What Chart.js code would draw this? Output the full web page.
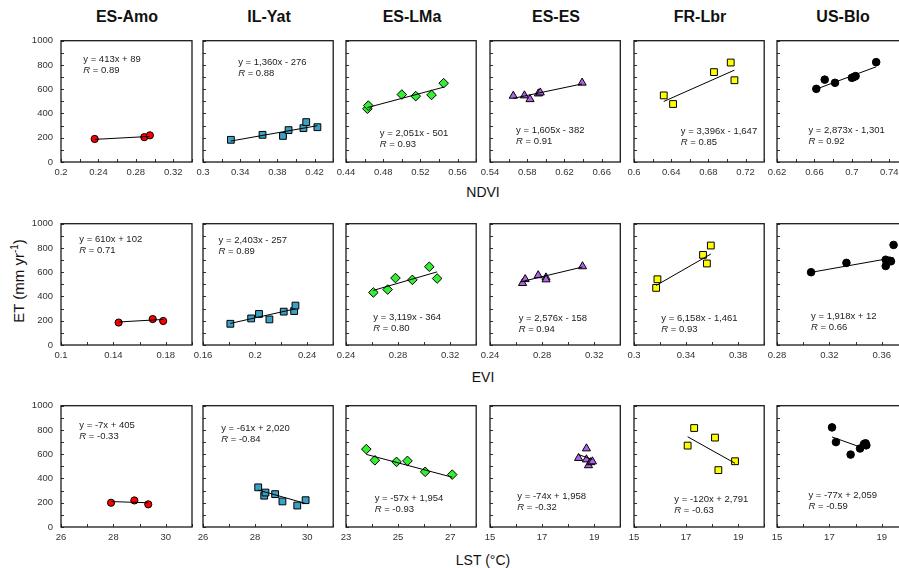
<!DOCTYPE html>
<html>
<head>
<meta charset="utf-8">
<script src="https://cdn.jsdelivr.net/npm/chart.js@4.4.1/dist/chart.umd.min.js"></script>
<style>
body{margin:0;width:899px;height:568px;overflow:hidden;background:#fff;position:relative;font-family:"Liberation Sans",Arial,sans-serif;color:#111}
canvas{position:absolute}
.t{position:absolute;transform:translate(-50%,-50%);white-space:nowrap}
.site{font-weight:bold;font-size:16px}
.ax{font-size:14px}
</style>
</head>
<body>
<script>
// sites (columns) and predictor rows
const sites = ['ES-Amo', 'IL-Yat', 'ES-LMa', 'ES-ES', 'FR-Lbr', 'US-Blo'];
const rowNames = ['NDVI', 'EVI', 'LST (°C)'];

// NDVI vs ET
const ndviX = [
  [0.236, 0.289, 0.295],
  [0.330, 0.364, 0.386, 0.392, 0.408, 0.411, 0.423],
  [0.463, 0.464, 0.500, 0.515, 0.532, 0.545],
  [0.565, 0.577, 0.583, 0.592, 0.594, 0.639],
  [0.632, 0.642, 0.686, 0.704, 0.708],
  [0.662, 0.671, 0.682, 0.700, 0.702, 0.704, 0.726]
];
const ndviET = [
  [190, 205, 220],
  [183, 224, 215, 263, 279, 329, 287],
  [439, 465, 556, 543, 553, 650],
  [545, 548, 517, 564, 572, 653],
  [549, 478, 741, 820, 674],
  [603, 679, 653, 694, 700, 708, 823]
];
const ndviSlope = [413, 1360, 2051, 1605, 3396, 2873];
const ndviIntercept = [89, -276, -501, -382, -1647, -1301];
const ndviR = [0.89, 0.88, 0.93, 0.91, 0.85, 0.92];

// EVI vs ET
const eviX = [
  [0.144, 0.170, 0.178],
  [0.181, 0.197, 0.203, 0.211, 0.222, 0.230, 0.231],
  [0.261, 0.272, 0.278, 0.291, 0.304, 0.310],
  [0.265, 0.267, 0.277, 0.283, 0.283, 0.311],
  [0.317, 0.318, 0.353, 0.356, 0.359],
  [0.306, 0.333, 0.363, 0.363, 0.366, 0.367, 0.369]
];
const eviET = [
  [185, 214, 198],
  [175, 219, 256, 211, 275, 280, 325],
  [433, 457, 552, 537, 645, 548],
  [510, 542, 574, 556, 540, 648],
  [471, 542, 743, 672, 820],
  [600, 677, 703, 651, 695, 690, 825]
];
const eviSlope = [610, 2403, 3119, 2576, 6158, 1918];
const eviIntercept = [102, -257, -364, -158, -1461, 12];
const eviR = [0.71, 0.89, 0.80, 0.94, 0.93, 0.66];

// LST vs ET
const lstX = [
  [27.91, 28.80, 29.33],
  [28.12, 28.35, 28.40, 28.77, 29.05, 29.62, 29.94],
  [23.78, 24.11, 24.94, 25.36, 26.04, 27.08],
  [18.40, 18.70, 18.70, 18.78, 18.86, 18.93],
  [17.06, 17.31, 18.11, 18.24, 18.88],
  [17.10, 17.25, 17.81, 18.17, 18.32, 18.38, 18.41]
];
const lstET = [
  [200, 219, 187],
  [327, 258, 284, 271, 211, 177, 221],
  [642, 550, 537, 545, 455, 432],
  [568, 647, 556, 508, 533, 540],
  [671, 816, 737, 469, 542],
  [821, 700, 597, 647, 684, 690, 674]
];
const lstSlope = [-7, -61, -57, -74, -120, -77];
const lstIntercept = [405, 2020, 1954, 1958, 2791, 2059];
const lstR = [-0.33, -0.84, -0.93, -0.32, -0.63, -0.59];

// tick labels
const ndviTicks = [[0.2, 0.24, 0.28, 0.32], [0.3, 0.34, 0.38, 0.42], [0.44, 0.48, 0.52, 0.56], [0.54, 0.58, 0.62, 0.66], [0.6, 0.64, 0.68, 0.72], [0.62, 0.66, 0.7, 0.74]];
const eviTicks = [[0.1, 0.14, 0.18], [0.16, 0.2, 0.24], [0.24, 0.28, 0.32], [0.24, 0.28, 0.32], [0.3, 0.34, 0.38], [0.28, 0.32, 0.36]];
const lstTicks = [[26, 28, 30], [26, 28, 30], [23, 25, 27], [15, 17, 19], [15, 17, 19], [15, 17, 19]];
const etTicks = [0, 200, 400, 600, 800, 1000];

// layout and styles
const colLeft = [61, 203, 346, 490, 634, 777];
const rowTop = [35, 218, 400];
const PW = 132, PH = 127;
const markStyle = ['circle', 'rect', 'rectRot', 'triangle', 'rect', 'circle'];
const markColor = ['#ff0000', '#3aa0c4', '#33ee33', '#b262e8', '#ffff00', '#000000'];
const markRadius = [3.6, 4.8, 4.8, 4.7, 4.8, 3.8];
const eqPos = [
  [[0.17, 0.15], [0.27, 0.18], [0.26, 0.76], [0.20, 0.74], [0.36, 0.75], [0.24, 0.74]],
  [[0.14, 0.13], [0.12, 0.14], [0.21, 0.77], [0.22, 0.78], [0.21, 0.78], [0.26, 0.76]],
  [[0.14, 0.16], [0.14, 0.19], [0.22, 0.76], [0.21, 0.75], [0.31, 0.77], [0.24, 0.74]]
];

const rows = [
  {x: ndviX, y: ndviET, ticks: ndviTicks, span: 0.14, m: ndviSlope, b: ndviIntercept, r: ndviR},
  {x: eviX, y: eviET, ticks: eviTicks, span: 0.1, m: eviSlope, b: eviIntercept, r: eviR},
  {x: lstX, y: lstET, ticks: lstTicks, span: 5, m: lstSlope, b: lstIntercept, r: lstR}
];

Chart.defaults.font.family = '"Liberation Sans", Arial, sans-serif';

function fmtN(v) {
  return String(Math.abs(v)).replace(/\B(?=(\d{3})+(?!\d))/g, ',');
}
function eqText(m, b) {
  return 'y = ' + (m < 0 ? '-' : '') + fmtN(m) + 'x ' + (b < 0 ? '- ' : '+ ') + fmtN(b);
}

// frame, inward tick marks and the fit equation
const panelDecor = {
  id: 'panelDecor',
  afterDraw(chart, args, o) {
    const ctx = chart.ctx, a = chart.chartArea, x = chart.scales.x, y = chart.scales.y;
    ctx.save();
    ctx.strokeStyle = '#333';
    ctx.lineWidth = 1;
    ctx.beginPath();
    x.ticks.forEach(t => {
      const p = Math.round(x.getPixelForValue(t.value)) + 0.5;
      ctx.moveTo(p, a.bottom); ctx.lineTo(p, a.bottom - 3);
    });
    y.ticks.forEach(t => {
      const p = Math.round(y.getPixelForValue(t.value)) + 0.5;
      ctx.moveTo(a.left, p); ctx.lineTo(a.left + 3, p);
    });
    ctx.stroke();
    ctx.strokeStyle = '#1a1a1a';
    ctx.lineWidth = 1.3;
    ctx.strokeRect(a.left, a.top, a.right - a.left, a.bottom - a.top);

    const f = '"Liberation Sans", Arial, sans-serif';
    const tx = a.left + o.pos[0] * (a.right - a.left);
    const ty = a.top + o.pos[1] * (a.bottom - a.top);
    ctx.fillStyle = '#222';
    ctx.textBaseline = 'middle';
    ctx.textAlign = 'left';
    ctx.font = '9.5px ' + f;
    ctx.fillText(o.eq, tx, ty);
    ctx.font = 'italic 9.5px ' + f;
    ctx.fillText('R', tx, ty + 11);
    const w = ctx.measureText('R').width;
    ctx.font = '9.5px ' + f;
    ctx.fillText(' = ' + o.r, tx + w, ty + 11);
    ctx.restore();
  }
};

function addText(txt, x, y, cls) {
  const d = document.createElement('div');
  d.className = 't ' + cls;
  d.innerHTML = txt;
  d.style.left = x + 'px';
  d.style.top = y + 'px';
  document.body.appendChild(d);
}

sites.forEach((s, c) => addText(s, colLeft[c] + PW / 2, 17, 'site'));
addText(rowNames[0], 483, 192, 'ax');
addText(rowNames[1], 483, 377, 'ax');
addText(rowNames[2], 483, 560, 'ax');
const et = document.createElement('div');
et.className = 't';
et.style.cssText = 'left:18px;top:281px;font-size:15px;transform:translate(-50%,-50%) rotate(-90deg)';
et.innerHTML = 'ET (mm yr<sup style="font-size:10px">-1</sup>)';
document.body.appendChild(et);

rows.forEach((row, ri) => {
  sites.forEach((s, c) => {
    const xs = row.x[c], ys = row.y[c];
    const majors = row.ticks[c];
    const min = majors[0], max = +(min + row.span).toFixed(4);
    const half = (majors[1] - majors[0]) / 2;
    const xTicks = [];
    for (let k = 0; k <= Math.round(row.span / half); k++) {
      const v = +(min + k * half).toFixed(4);
      xTicks.push({value: v, lab: majors.some(m => Math.abs(m - v) < 1e-6) ? String(v) : ''});
    }
    const yTicks = [];
    for (let v = 0; v <= 1000; v += 100) {
      yTicks.push({value: v, lab: (c === 0 && etTicks.includes(v)) ? String(v) : ''});
    }
    const lo = Math.min(...xs), hi = Math.max(...xs);
    const m = row.m[c], b = row.b[c];

    const cv = document.createElement('canvas');
    cv.width = 45 + PW + 4;
    cv.height = 8 + PH + 22;
    cv.style.left = (colLeft[c] - 45) + 'px';
    cv.style.top = (rowTop[ri] - 8) + 'px';
    document.body.appendChild(cv);

    new Chart(cv, {
      type: 'scatter',
      data: {
        datasets: [
          {
            data: [{x: lo, y: m * lo + b}, {x: hi, y: m * hi + b}],
            showLine: true, borderColor: '#000', borderWidth: 1, pointRadius: 0
          },
          {
            data: xs.map((v, i) => ({x: v, y: ys[i]})),
            pointStyle: markStyle[c], pointRadius: markRadius[c],
            backgroundColor: markColor[c], borderColor: '#000', borderWidth: 1
          }
        ]
      },
      options: {
        responsive: false,
        animation: false,
        events: [],
        layout: {padding: {left: 0, right: 4, top: 8, bottom: 0}},
        plugins: {
          legend: {display: false},
          tooltip: {enabled: false},
          panelDecor: {eq: eqText(m, b), r: row.r[c].toFixed(2), pos: eqPos[ri][c]}
        },
        scales: {
          x: {
            type: 'linear', min: min, max: max,
            grid: {display: false, drawTicks: false},
            border: {display: false},
            afterBuildTicks: sc => { sc.ticks = xTicks.map(t => ({value: t.value, lab: t.lab})); },
            afterFit: sc => { sc.height = 22; },
            ticks: {
              autoSkip: false, maxRotation: 0, padding: 5, color: '#333', font: {size: 9.5},
              callback: (v, i, t) => t[i].lab
            }
          },
          y: {
            type: 'linear', min: 0, max: 1000,
            grid: {display: false, drawTicks: false},
            border: {display: false},
            afterBuildTicks: sc => { sc.ticks = yTicks.map(t => ({value: t.value, lab: t.lab})); },
            afterFit: sc => { sc.width = 45; },
            ticks: {
              autoSkip: false, padding: 8, color: '#333', font: {size: 9.5},
              callback: (v, i, t) => t[i].lab
            }
          }
        }
      },
      plugins: [panelDecor]
    });
  });
});
</script>
</body>
</html>
